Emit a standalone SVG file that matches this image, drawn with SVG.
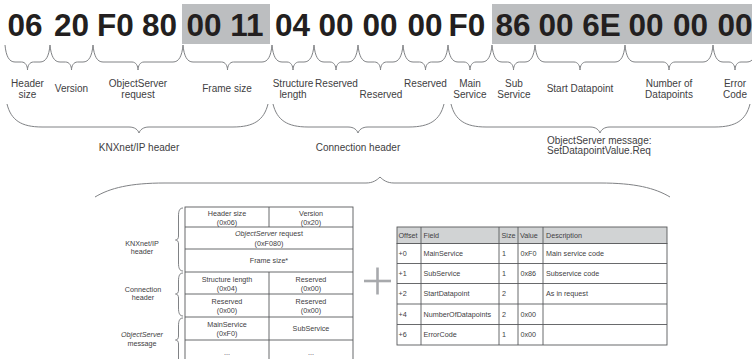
<svg xmlns="http://www.w3.org/2000/svg" width="752" height="359" viewBox="0 0 752 359">
<style>
.byte{font-family:"Liberation Sans",Arial,sans-serif;font-weight:bold;font-size:31.5px;fill:#231f20;text-anchor:middle}
.lbl{font-family:"Liberation Sans",Arial,sans-serif;font-size:10px;fill:#414042;text-anchor:middle}
.lbl2{font-family:"Liberation Sans",Arial,sans-serif;font-size:10px;fill:#414042}
.sm{font-family:"Liberation Sans",Arial,sans-serif;font-size:7.2px;fill:#414042;text-anchor:middle}
.tl{font-family:"Liberation Sans",Arial,sans-serif;font-size:7.2px;fill:#414042}
.br{fill:none;stroke:#808285;stroke-width:1}
.cell{fill:#ffffff;stroke:#58595b;stroke-width:0.9}
.hdr{fill:#d1d3d4;stroke:#58595b;stroke-width:0.9}
.ln{stroke:#58595b;stroke-width:0.9}
</style>
<rect x="182" y="4" width="88" height="40" fill="#bcbec0"/>
<rect x="492" y="4" width="260" height="40" fill="#bcbec0"/>
<g id="bytes">
<text class="byte" x="25" y="35.5">06</text>
<text class="byte" x="71.5" y="35.5">20</text>
<text class="byte" x="115.5" y="35.5">F0</text>
<text class="byte" x="159.5" y="35.5">80</text>
<text class="byte" x="204" y="35.5">00</text>
<text class="byte" x="247" y="35.5">11</text>
<text class="byte" x="292.5" y="35.5">04</text>
<text class="byte" x="336" y="35.5">00</text>
<text class="byte" x="380" y="35.5">00</text>
<text class="byte" x="425" y="35.5">00</text>
<text class="byte" x="467" y="35.5">F0</text>
<text class="byte" x="513" y="35.5">86</text>
<text class="byte" x="556" y="35.5">00</text>
<text class="byte" x="601.5" y="35.5">6E</text>
<text class="byte" x="646" y="35.5">00</text>
<text class="byte" x="690.5" y="35.5">00</text>
<text class="byte" x="735" y="35.5">00</text>
</g>
<g id="connectors">
<path class="br" d="M5,45 C6,56 9,62 15,62 L21.5,62 C25.5,62 27.5,66 27.5,70 C27.5,66 29.5,62 33.5,62 L40,62 C46,62 49,56 50,45"/>
<path class="br" d="M50,45 C51,56 54,62 60,62 L65.5,62 C69.5,62 71.5,66 71.5,70 C71.5,66 73.5,62 77.5,62 L83,62 C89,62 92,56 93,45"/>
<path class="br" d="M93,45 C94,56 97,62 103,62 L132,62 C136,62 138,66 138,70 C138,66 140,62 144,62 L173,62 C179,62 182,56 183,45"/>
<path class="br" d="M183,45 C184,56 187,62 193,62 L221.5,62 C225.5,62 227.5,66 227.5,70 C227.5,66 229.5,62 233.5,62 L262,62 C268,62 271,56 272,45"/>
<path class="br" d="M272,45 C273,56 276,62 282,62 L287,62 C291,62 293,66 293,70 C293,66 295,62 299,62 L304,62 C310,62 313,56 314,45"/>
<path class="br" d="M314,45 C315,56 318,62 324,62 L330,62 C334,62 336,66 336,70 C336,66 338,62 342,62 L348,62 C354,62 357,56 358,45"/>
<path class="br" d="M358,45 C359,56 362,62 368,62 L374.5,62 C378.5,62 380.5,66 380.5,70 C380.5,66 382.5,62 386.5,62 L393,62 C399,62 402,56 403,45"/>
<path class="br" d="M403,45 C404,56 407,62 413,62 L419.5,62 C423.5,62 425.5,66 425.5,70 C425.5,66 427.5,62 431.5,62 L438,62 C444,62 447,56 448,45"/>
<path class="br" d="M448,45 C449,56 452,62 458,62 L464,62 C468,62 470,66 470,70 C470,66 472,62 476,62 L482,62 C488,62 491,56 492,45"/>
<path class="br" d="M492,45 C493,56 496,62 502,62 L507.5,62 C511.5,62 513.5,66 513.5,70 C513.5,66 515.5,62 519.5,62 L525,62 C531,62 534,56 535,45"/>
<path class="br" d="M535,45 C536,56 539,62 545,62 L574,62 C578,62 580,66 580,70 C580,66 582,62 586,62 L615,62 C621,62 624,56 625,45"/>
<path class="br" d="M625,45 C626,56 629,62 635,62 L663,62 C667,62 669,66 669,70 C669,66 671,62 675,62 L703,62 C709,62 712,56 713,45"/>
<path class="br" d="M713,45 C714,56 717,62 723,62 L729,62 C733,62 735,66 735,70 C735,66 737,62 741,62 L747,62 C753,62 756,56 757,45"/>
<path class="br" d="M7,104 C11,120 21,127 42,127 L129,127 C135,127 138,130 139,133 C140,130 143,127 149,127 L233,127 C254,127 264,120 268,104"/>
<path class="br" d="M273,104 C277,120 287,127 308,127 L348,127 C354,127 357,130 358,133 C359,130 362,127 368,127 L409,127 C430,127 440,120 444,104"/>
<path class="br" d="M451,104 C455,120 465,127 486,127 L590,127 C596,127 599,130 600,133 C601,130 604,127 610,127 L715,127 C736,127 746,120 750,104"/>
<path class="br" d="M95,197 C110,188 130,183 165,183 L366,183 C373,183 377,180 380,177 C383,180 387,183 394,183 L600,183 C635,183 655,188 670,197"/>
<path class="br" d="M183,208 C179.5,208 178.5,211 178.5,216 L178.5,236 C178.5,238.5 177.5,240 175.5,240 C177.5,240 178.5,241.5 178.5,244 L178.5,263 C178.5,268 179.5,271 183,271"/>
<path class="br" d="M183,273 C179.5,273 178.5,276 178.5,281 L178.5,290 C178.5,292.5 177.5,294 175.5,294 C177.5,294 178.5,295.5 178.5,298 L178.5,308 C178.5,313 179.5,316 183,316"/>
<path class="br" d="M183,318 C179.5,318 178.5,321 178.5,326 L178.5,336 C178.5,338.5 177.5,340 175.5,340 C177.5,340 178.5,341.5 178.5,344 L178.5,362"/>
</g>
<g id="labels">
<text class="lbl" x="27.5" y="87">Header</text><text class="lbl" x="27.5" y="97.5">size</text>
<text class="lbl" x="71.5" y="92">Version</text>
<text class="lbl" x="138" y="87">ObjectServer</text><text class="lbl" x="138" y="97.5">request</text>
<text class="lbl" x="227" y="92">Frame size</text>
<text class="lbl" x="293" y="87">Structure</text><text class="lbl" x="293" y="97.5">length</text>
<text class="lbl" x="336.5" y="87">Reserved</text>
<text class="lbl" x="381" y="97.5">Reserved</text>
<text class="lbl" x="425.5" y="87">Reserved</text>
<text class="lbl" x="470" y="87">Main</text><text class="lbl" x="470" y="97.5">Service</text>
<text class="lbl" x="514" y="87">Sub</text><text class="lbl" x="514" y="97.5">Service</text>
<text class="lbl" x="580" y="92">Start Datapoint</text>
<text class="lbl" x="669" y="87">Number of</text><text class="lbl" x="669" y="97.5">Datapoints</text>
<text class="lbl" x="735" y="87">Error</text><text class="lbl" x="735" y="97.5">Code</text>
<text class="lbl" x="139" y="151">KNXnet/IP header</text>
<text class="lbl" x="358" y="151">Connection header</text>
<text class="lbl2" x="547" y="144">ObjectServer message:</text>
<text class="lbl2" x="547" y="153.5">SetDatapointValue.Req</text>
<text class="sm" x="142" y="245.5">KNXnet/IP</text><text class="sm" x="142" y="254">header</text>
<text class="sm" x="143" y="291.5">Connection</text><text class="sm" x="143" y="300">header</text>
<text class="sm" x="142" y="337" font-style="italic">ObjectServer</text><text class="sm" x="142" y="346">message</text>
</g>
<g id="frame-table">
<rect class="cell" x="185" y="207" width="168" height="165"/>
<line class="ln" x1="185" y1="227" x2="353" y2="227"/>
<line class="ln" x1="185" y1="249" x2="353" y2="249"/>
<line class="ln" x1="185" y1="272" x2="353" y2="272"/>
<line class="ln" x1="185" y1="294" x2="353" y2="294"/>
<line class="ln" x1="185" y1="317" x2="353" y2="317"/>
<line class="ln" x1="185" y1="340" x2="353" y2="340"/>
<line class="ln" x1="269" y1="207" x2="269" y2="227"/>
<line class="ln" x1="269" y1="272" x2="269" y2="372"/>
<text class="sm" x="227" y="215.5">Header size</text><text class="sm" x="227" y="224.5">(0x06)</text>
<text class="sm" x="311" y="215.5">Version</text><text class="sm" x="311" y="224.5">(0x20)</text>
<text class="sm" x="269" y="236"><tspan font-style="italic">ObjectServer</tspan> request</text><text class="sm" x="269" y="245.5">(0xF080)</text>
<text class="sm" x="269" y="263">Frame size*</text>
<text class="sm" x="227" y="281.5">Structure length</text><text class="sm" x="227" y="291">(0x04)</text>
<text class="sm" x="311" y="281.5">Reserved</text><text class="sm" x="311" y="291">(0x00)</text>
<text class="sm" x="227" y="303.5">Reserved</text><text class="sm" x="227" y="313">(0x00)</text>
<text class="sm" x="311" y="303.5">Reserved</text><text class="sm" x="311" y="313">(0x00)</text>
<text class="sm" x="227" y="326.5">MainService</text><text class="sm" x="227" y="336">(0xF0)</text>
<text class="sm" x="311" y="331">SubService</text>
<text class="sm" x="227" y="355">...</text><text class="sm" x="311" y="355">...</text>
</g>
<g id="plus">
<line x1="364" y1="281" x2="391" y2="281" stroke="#a7a9ac" stroke-width="2.6"/>
<line x1="377.5" y1="267.5" x2="377.5" y2="294.5" stroke="#a7a9ac" stroke-width="2.6"/>
</g>
<g id="response-table">
<rect class="hdr" x="397" y="227" width="270" height="16.5"/>
<rect class="cell" x="397" y="243.5" width="270" height="101.5"/>
<line class="ln" x1="397" y1="263.5" x2="667" y2="263.5"/>
<line class="ln" x1="397" y1="283.5" x2="667" y2="283.5"/>
<line class="ln" x1="397" y1="304" x2="667" y2="304"/>
<line class="ln" x1="397" y1="324.5" x2="667" y2="324.5"/>
<line class="ln" x1="421" y1="227" x2="421" y2="345"/>
<line class="ln" x1="499" y1="227" x2="499" y2="345"/>
<line class="ln" x1="518" y1="227" x2="518" y2="345"/>
<line class="ln" x1="543" y1="227" x2="543" y2="345"/>
<text class="tl" x="398.5" y="238">Offset</text><text class="tl" x="423.5" y="238">Field</text><text class="tl" x="501.5" y="238">Size</text><text class="tl" x="520" y="238">Value</text><text class="tl" x="546" y="238">Description</text>
<text class="tl" x="398.5" y="256">+0</text><text class="tl" x="423.5" y="256">MainService</text><text class="tl" x="502" y="256">1</text><text class="tl" x="520.5" y="256">0xF0</text><text class="tl" x="546" y="256">Main service code</text>
<text class="tl" x="398.5" y="276">+1</text><text class="tl" x="423.5" y="276">SubService</text><text class="tl" x="502" y="276">1</text><text class="tl" x="520.5" y="276">0x86</text><text class="tl" x="546" y="276">Subservice code</text>
<text class="tl" x="398.5" y="296">+2</text><text class="tl" x="423.5" y="296">StartDatapoint</text><text class="tl" x="502" y="296">2</text><text class="tl" x="546" y="296">As in request</text>
<text class="tl" x="398.5" y="316.5">+4</text><text class="tl" x="423.5" y="316.5">NumberOfDatapoints</text><text class="tl" x="502" y="316.5">2</text><text class="tl" x="520.5" y="316.5">0x00</text>
<text class="tl" x="398.5" y="337">+6</text><text class="tl" x="423.5" y="337">ErrorCode</text><text class="tl" x="502" y="337">1</text><text class="tl" x="520.5" y="337">0x00</text>
</g>
</svg>
